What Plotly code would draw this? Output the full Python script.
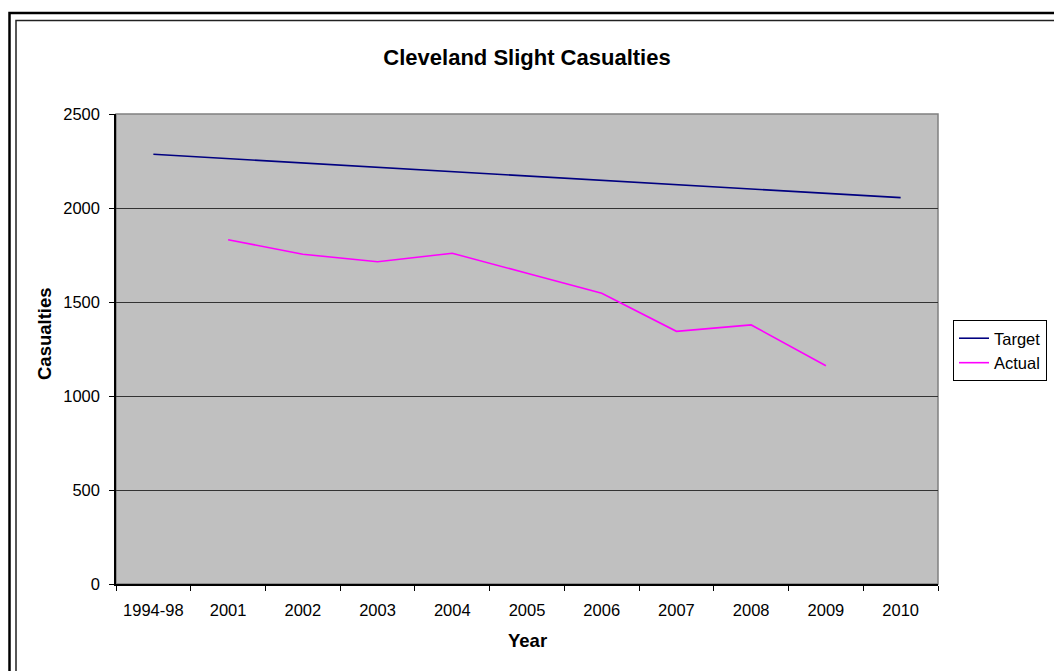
import plotly.graph_objects as go

years = ["1994-98", "2001", "2002", "2003", "2004", "2005",
         "2006", "2007", "2008", "2009", "2010"]
target = [2286, 2263, 2240, 2217, 2194, 2171, 2148, 2125, 2101, 2078, 2055]
actual_years = ["2001", "2002", "2003", "2004", "2005", "2006", "2007", "2008", "2009"]
actual = [1831, 1754, 1714, 1759, 1653, 1546, 1344, 1378, 1161]

W, H = 1054, 671
L, R, T, B = 116, 938, 114, 584  # plot area edges in pixels


def px_x(p):
    return (p - L) / (R - L)


def px_y(p):
    return (B - p) / (B - T)


FONT = "Liberation Sans, Arial, sans-serif"
TICK_SIZE = 16.5

fig = go.Figure()
fig.add_trace(go.Scatter(x=years, y=target, mode="lines", name="Target",
                         line=dict(color="#000080", width=1.6)))
fig.add_trace(go.Scatter(x=actual_years, y=actual, mode="lines", name="Actual",
                         line=dict(color="#FF00FF", width=1.6)))

shapes = [
    # plot-area frame (grey top/right)
    dict(type="rect", xref="paper", yref="paper", x0=0, x1=1, y0=0, y1=1,
         line=dict(color="#808080", width=1.5), layer="below"),
    # outer chart border
    dict(type="rect", xref="paper", yref="paper",
         x0=px_x(9.5), x1=px_x(1070), y0=px_y(690), y1=px_y(13),
         line=dict(color="#000000", width=2.5)),
    # inner chart border
    dict(type="rect", xref="paper", yref="paper",
         x0=px_x(16), x1=px_x(1070), y0=px_y(690), y1=px_y(20.5),
         line=dict(color="#222222", width=1.5)),
]

annotations = [
    dict(text="<b>Casualties</b>", xref="paper", yref="paper",
         x=px_x(44), y=px_y(334), xanchor="center", yanchor="middle",
         textangle=-90, showarrow=False,
         font=dict(family=FONT, size=18.5, color="#000000")),
    dict(text="<b>Year</b>", xref="paper", yref="paper",
         x=0.5, y=px_y(640), xanchor="center", yanchor="middle",
         showarrow=False,
         font=dict(family=FONT, size=18.5, color="#000000")),
]

fig.update_layout(
    width=W, height=H,
    margin=dict(l=L, r=W - R, t=T, b=H - B, autoexpand=False),
    paper_bgcolor="#FFFFFF",
    plot_bgcolor="#C0C0C0",
    font=dict(family=FONT, size=TICK_SIZE, color="#000000"),
    title=dict(text="<b>Cleveland Slight Casualties</b>", x=0.5, xanchor="center",
               y=1 - 57 / H, yanchor="middle",
               font=dict(family=FONT, size=22, color="#000000")),
    shapes=shapes,
    annotations=annotations,
    legend=dict(x=px_x(953), y=px_y(320), xanchor="left", yanchor="top",
                bgcolor="#FFFFFF", bordercolor="#000000", borderwidth=1,
                font=dict(family=FONT, size=TICK_SIZE, color="#000000"),
                itemwidth=30, tracegroupgap=0),
    showlegend=True,
)

fig.update_xaxes(
    type="category", categoryorder="array", categoryarray=years,
    range=[-0.5, 10.5], tickson="boundaries", ticks="outside", ticklen=5,
    tickcolor="#000000", showline=True, linecolor="#000000", linewidth=1.5,
    showgrid=False, zeroline=False, ticklabelstandoff=10,
    tickfont=dict(family=FONT, size=TICK_SIZE, color="#000000"),
)
fig.update_yaxes(
    range=[0, 2500], tickvals=[0, 500, 1000, 1500, 2000, 2500],
    ticks="outside", ticklen=5, tickcolor="#000000",
    showline=True, linecolor="#000000", linewidth=1.5,
    showgrid=True, gridcolor="#333333", gridwidth=1, zeroline=False,
    ticklabelstandoff=6,
    tickfont=dict(family=FONT, size=TICK_SIZE, color="#000000"),
)

fig.write_html("out.html")
